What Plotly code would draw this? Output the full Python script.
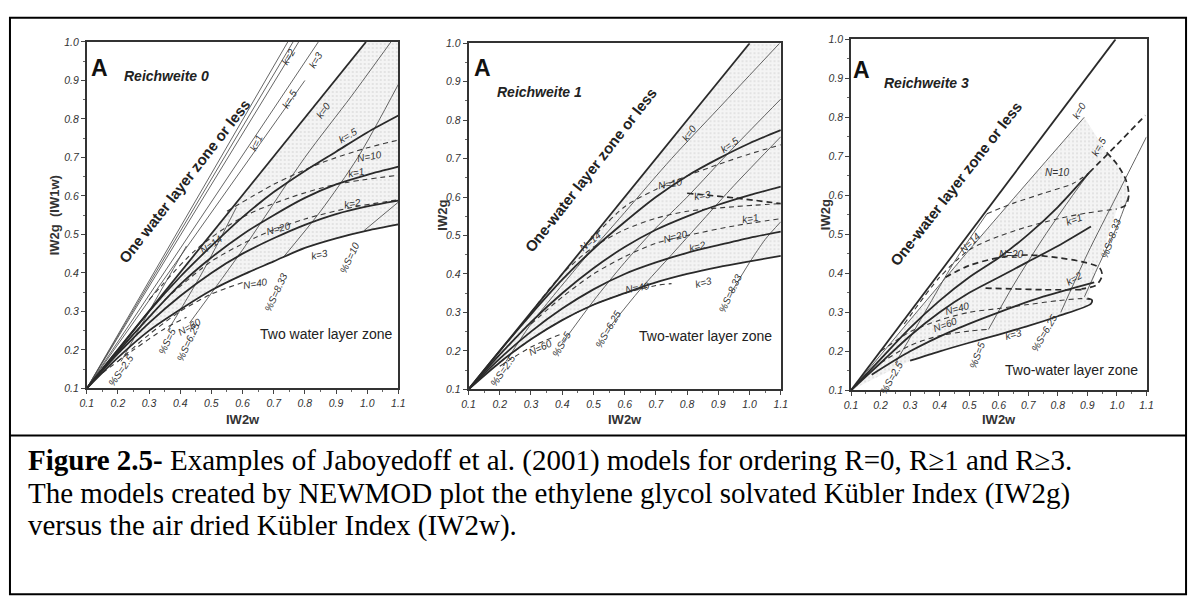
import plotly.graph_objects as go

W, H = 1197, 613

# ------------------------------------------------------------------
# DATA  (IW2w on x, IW2g on y)
# ------------------------------------------------------------------
grid_x = [0.1, 0.2, 0.3, 0.4, 0.5, 0.6, 0.7, 0.8, 0.9, 1.0, 1.1]
tick_vals_x = [0.1, 0.2, 0.3, 0.4, 0.5, 0.6, 0.7, 0.8, 0.9, 1.0, 1.1]
tick_vals_y = [0.1, 0.2, 0.3, 0.4, 0.5, 0.6, 0.7, 0.8, 0.9, 1.0]

# ---- Panel 1 : Reichweite 0 ----
r0_k0_x = [0.1, 0.996]
r0_k0_y = [0.1, 1.0]
r0_k05 = [0.1, 0.2, 0.3, 0.39, 0.47, 0.545, 0.61, 0.665, 0.715, 0.765, 0.809]
r0_k1 = [0.1, 0.195, 0.285, 0.37, 0.44, 0.5, 0.55, 0.595, 0.63, 0.655, 0.676]
r0_k2 = [0.1, 0.19, 0.27, 0.34, 0.4, 0.45, 0.49, 0.525, 0.553, 0.573, 0.588]
r0_k3 = [0.1, 0.18, 0.25, 0.305, 0.355, 0.395, 0.43, 0.465, 0.49, 0.51, 0.526]
r0_one_layer_ends_x = [0.745, 0.762, 0.78, 0.80, 0.843]
r0_one_layer_ends_y = [1.0, 1.0, 1.0, 0.9, 1.0]
r0_N10_x = [0.55, 0.7, 0.85, 1.0, 1.1]
r0_N10_y = [0.56, 0.63, 0.685, 0.725, 0.745]
r0_N14_x = [0.3, 0.45, 0.6, 0.75, 0.9, 1.1]
r0_N14_y = [0.33, 0.46, 0.545, 0.595, 0.63, 0.654]
r0_N20_x = [0.35, 0.5, 0.65, 0.8, 0.95, 1.1]
r0_N20_y = [0.33, 0.43, 0.495, 0.54, 0.57, 0.59]
r0_N40_x = [0.2, 0.3, 0.4, 0.5, 0.6]
r0_N40_y = [0.17, 0.24, 0.3, 0.345, 0.375]
r0_N60_x = [0.15, 0.25, 0.35, 0.42]
r0_N60_y = [0.14, 0.2, 0.255, 0.285]
r0_S25_x = [0.21, 0.3, 0.42]
r0_S25_y = [0.17, 0.3, 0.47]
r0_S5_x = [0.36, 0.47, 0.58]
r0_S5_y = [0.25, 0.4, 0.57]
r0_S625_x = [0.43, 0.6, 0.8, 0.95, 1.076]
r0_S625_y = [0.27, 0.46, 0.7, 0.86, 1.0]
r0_S833_x = [0.73, 0.85, 0.97, 1.1]
r0_S833_y = [0.44, 0.56, 0.7, 0.89]
r0_S10_x = [0.99, 1.1]
r0_S10_y = [0.51, 0.584]

# ---- Panel 2 : Reichweite 1 ----
r1_k0_x = [0.1, 1.0]
r1_k0_y = [0.1, 1.0]
r1_k05 = [0.1, 0.2, 0.295, 0.385, 0.465, 0.535, 0.6, 0.655, 0.7, 0.74, 0.774]
r1_k1 = [0.1, 0.19, 0.275, 0.35, 0.415, 0.47, 0.515, 0.55, 0.58, 0.605, 0.627]
r1_k2 = [0.1, 0.18, 0.25, 0.31, 0.36, 0.4, 0.43, 0.455, 0.475, 0.494, 0.51]
r1_k3 = [0.1, 0.17, 0.23, 0.28, 0.32, 0.35, 0.378, 0.4, 0.418, 0.433, 0.447]
r1_N10_x = [0.47, 0.6, 0.7, 0.8, 0.9, 1.0, 1.1]
r1_N10_y = [0.47, 0.575, 0.62, 0.655, 0.685, 0.712, 0.736]
r1_N14_x = [0.3, 0.4, 0.5, 0.6, 0.7, 0.8, 0.95, 1.1]
r1_N14_y = [0.3, 0.4, 0.47, 0.515, 0.545, 0.563, 0.575, 0.583]
r1_N20_x = [0.3, 0.4, 0.5, 0.6, 0.7, 0.8, 0.95, 1.1]
r1_N20_y = [0.27, 0.34, 0.4, 0.445, 0.48, 0.5, 0.525, 0.544]
r1_N40_x = [0.2, 0.3, 0.4, 0.5, 0.6, 0.7, 0.75]
r1_N40_y = [0.17, 0.23, 0.28, 0.32, 0.35, 0.37, 0.375]
r1_N60_x = [0.2, 0.3, 0.4]
r1_N60_y = [0.16, 0.21, 0.245]
r1_k3dash_x = [0.8, 0.95, 1.1]
r1_k3dash_y = [0.61, 0.598, 0.583]
r1_S25_x = [0.21, 0.3, 0.45, 0.6, 0.75, 0.9, 1.096]
r1_S25_y = [0.16, 0.27, 0.42, 0.56, 0.7, 0.83, 1.0]
r1_S5_x = [0.4, 0.5, 0.6, 0.7, 0.8, 0.95, 1.1]
r1_S5_y = [0.22, 0.33, 0.43, 0.52, 0.6, 0.73, 0.855]
r1_S625_x = [0.55, 0.65, 0.75, 0.85, 0.95, 1.1]
r1_S625_y = [0.26, 0.36, 0.45, 0.54, 0.63, 0.757]
r1_S833_x = [0.94, 1.0, 1.05, 1.1]
r1_S833_y = [0.35, 0.43, 0.49, 0.536]

# ---- Panel 3 : Reichweite 3 ----
r3_k0_x = [0.1, 0.995]
r3_k0_y = [0.1, 1.0]
r3_k0thin_x = [0.1, 0.5, 0.889]
r3_k0thin_y = [0.1, 0.46, 0.8]
r3_k05_x = [0.1, 0.2, 0.3, 0.4, 0.5, 0.6, 0.7, 0.8, 0.906]
r3_k05_y = [0.1, 0.18, 0.26, 0.33, 0.39, 0.44, 0.5, 0.57, 0.658]
r3_k05dash_x = [0.906, 1.0, 1.096]
r3_k05dash_y = [0.658, 0.73, 0.805]
r3_N10_x = [0.56, 0.65, 0.75, 0.85, 0.906]
r3_N10_y = [0.553, 0.58, 0.605, 0.63, 0.658]
r3_N14_x = [0.28, 0.4, 0.5, 0.6, 0.7, 0.8, 0.9, 1.0]
r3_N14_y = [0.27, 0.39, 0.46, 0.495, 0.52, 0.54, 0.555, 0.565]
r3_loop_x = [0.965, 1.0, 1.03, 1.04, 1.03, 1.0]
r3_loop_y = [0.71, 0.68, 0.64, 0.6, 0.575, 0.565]
r3_k1_x = [0.1, 0.2, 0.3, 0.4, 0.5, 0.6, 0.7, 0.8, 0.912]
r3_k1_y = [0.1, 0.17, 0.24, 0.3, 0.35, 0.39, 0.43, 0.47, 0.52]
r3_N20_x = [0.42, 0.5, 0.6, 0.7, 0.8, 0.88, 0.94, 0.95, 0.93, 0.88]
r3_N20_y = [0.39, 0.42, 0.44, 0.447, 0.44, 0.43, 0.415, 0.395, 0.37, 0.36]
r3_k2dash_x = [0.88, 0.75, 0.65, 0.555]
r3_k2dash_y = [0.358, 0.358, 0.36, 0.362]
r3_k2_x = [0.17, 0.3, 0.45, 0.6, 0.75, 0.923]
r3_k2_y = [0.14, 0.2, 0.255, 0.3, 0.34, 0.377]
r3_N40_x = [0.2, 0.3, 0.4, 0.5, 0.6, 0.7, 0.8, 0.88, 0.91]
r3_N40_y = [0.2, 0.25, 0.28, 0.3, 0.31, 0.32, 0.33, 0.335, 0.333]
r3_N60_x = [0.2, 0.3, 0.4, 0.5, 0.56]
r3_N60_y = [0.17, 0.215, 0.24, 0.252, 0.256]
r3_k3_x = [0.3, 0.4, 0.5, 0.6, 0.7, 0.8, 0.912, 0.915, 0.9]
r3_k3_y = [0.176, 0.2, 0.222, 0.243, 0.265, 0.29, 0.322, 0.332, 0.336]
r3_S25_x = [0.25, 0.35, 0.45, 0.56]
r3_S25_y = [0.17, 0.3, 0.43, 0.553]
r3_S5_x = [0.565, 0.65, 0.75, 0.85, 0.906]
r3_S5_y = [0.256, 0.37, 0.49, 0.6, 0.658]
r3_S625_x = [0.81, 0.9, 1.0, 1.1]
r3_S625_y = [0.3, 0.45, 0.6, 0.75]
r3_S833_x = [0.89, 0.95, 1.0, 1.04]
r3_S833_y = [0.34, 0.44, 0.52, 0.6]

# curve labels: (text, x, y, angle)
r0_labels = [("k=2", 0.748, 0.962, -60), ("k=3", 0.833, 0.953, -60), ("k=.5", 0.753, 0.852, -60),
             ("k=1", 0.642, 0.737, -65), ("k=0", 0.859, 0.822, -55), ("k=.5", 0.938, 0.758, -30),
             ("N=10", 1.007, 0.703, -10), ("k=1", 0.965, 0.66, -10), ("k=2", 0.954, 0.58, -10),
             ("N=20", 0.716, 0.516, -15), ("N=14", 0.5, 0.474, -35), ("N=40", 0.642, 0.372, -10),
             ("N=60", 0.431, 0.261, -30), ("k=3", 0.848, 0.448, -12), ("%S=10", 0.944, 0.44, -65),
             ("%S=8.33", 0.706, 0.35, -65), ("%S=6.25", 0.425, 0.219, -65), ("%S=5", 0.357, 0.223, -65),
             ("%S=2.5", 0.209, 0.147, -55)]
r1_labels = [("k=0", 0.806, 0.765, -55), ("k=.5", 0.938, 0.736, -35), ("N=10", 0.748, 0.634, -10),
             ("k=3", 0.848, 0.604, -10), ("k=1", 1.001, 0.544, -10), ("N=14", 0.489, 0.485, -40),
             ("N=20", 0.764, 0.498, -15), ("k=2", 0.832, 0.472, -15), ("N=40", 0.642, 0.366, -10),
             ("k=3", 0.853, 0.379, -15), ("%S=8.33", 0.938, 0.349, -65), ("%S=6.25", 0.547, 0.255, -60),
             ("%S=5", 0.397, 0.217, -60), ("N=60", 0.331, 0.209, -25), ("%S=2.5", 0.21, 0.149, -55)]
r3_labels = [("k=0", 0.873, 0.817, -60), ("k=.5", 0.939, 0.725, -60), ("N=10", 0.8, 0.658, 0),
             ("k=1", 0.856, 0.537, -20), ("%S=8.33", 0.979, 0.49, -70), ("N=14", 0.505, 0.478, -45),
             ("N=20", 0.644, 0.449, 0), ("k=2", 0.856, 0.386, -30), ("N=40", 0.46, 0.31, -15),
             ("N=60", 0.421, 0.268, -20), ("k=3", 0.65, 0.243, -15), ("%S=5", 0.527, 0.189, -70),
             ("%S=6.25", 0.756, 0.247, -60), ("%S=2.5", 0.237, 0.134, -60)]

caption_lines = [
    "<b>Figure 2.5-</b> Examples of Jaboyedoff et al. (2001) models for ordering R=0, R\u22651 and R\u22653.",
    "The models created by NEWMOD plot the ethylene glycol solvated K\u00fcbler Index (IW2g)",
    "versus the air dried K\u00fcbler Index (IW2w).",
]

# ------------------------------------------------------------------
# STYLES / GEOMETRY  (pixel positions in the 1197x613 window)
# ------------------------------------------------------------------
THICK = dict(color="#2a2a2a", width=1.8)
THIN = dict(color="#4a4a4a", width=0.85)
DASH = dict(color="#3a3a3a", width=1.1, dash="5px,4px")
DASHT = dict(color="#2a2a2a", width=1.7, dash="6px,4px")
SANS = "Liberation Sans, Arial, sans-serif"


def px(v):
    return v / W


def py(v):
    return 1 - v / H


frames = {1: (80.7, 396, 36.7, 390), 2: (467, 783, 38, 391), 3: (854, 1153, 34, 392)}

fig = go.Figure()


def line(p, xs, ys, style):
    fig.add_trace(go.Scatter(x=xs, y=ys, mode="lines", xaxis=f"x{'' if p == 1 else p}",
                             yaxis=f"y{'' if p == 1 else p}",
                             line=dict(shape="spline", smoothing=0.8, **style),
                             hoverinfo="skip", showlegend=False))


def shade(p, xs, ys):
    fig.add_trace(go.Scatter(x=xs, y=ys, mode="lines", fill="toself", xaxis=f"x{'' if p == 1 else p}",
                             yaxis=f"y{'' if p == 1 else p}", line=dict(width=0),
                             fillcolor="#eeeeee",
                             fillpattern=dict(shape=".", fgcolor="#c8c8c8", bgcolor="#f4f4f4",
                                              size=4, solidity=0.2),
                             hoverinfo="skip", showlegend=False))


shade(1, grid_x + [1.1, r0_k0_x[1], r0_k0_x[0]], r0_k3 + [1.0, r0_k0_y[1], r0_k0_y[0]])
shade(2, grid_x + [1.1, r1_k0_x[1], r1_k0_x[0]], r1_k3 + [1.0, r1_k0_y[1], r1_k0_y[0]])
shade(3, r3_k0thin_x + r3_loop_x + r3_k3_x[::-1] + [r3_k0thin_x[0]],
      r3_k0thin_y + r3_loop_y + r3_k3_y[::-1] + [r3_k0thin_y[0]])

# ---- panel 1 ----
for ex, ey in zip(r0_one_layer_ends_x, r0_one_layer_ends_y):
    line(1, [0.1, ex], [0.1, ey], THIN)
for xs, ys in [(r0_S25_x, r0_S25_y), (r0_S5_x, r0_S5_y), (r0_S625_x, r0_S625_y),
               (r0_S833_x, r0_S833_y), (r0_S10_x, r0_S10_y)]:
    line(1, xs, ys, THIN)
for xs, ys in [(r0_N10_x, r0_N10_y), (r0_N14_x, r0_N14_y), (r0_N20_x, r0_N20_y),
               (r0_N40_x, r0_N40_y), (r0_N60_x, r0_N60_y)]:
    line(1, xs, ys, DASH)
line(1, r0_k0_x, r0_k0_y, THICK)
for ys in [r0_k05, r0_k1, r0_k2, r0_k3]:
    line(1, grid_x, ys, THICK)

# ---- panel 2 ----
for xs, ys in [(r1_S25_x, r1_S25_y), (r1_S5_x, r1_S5_y), (r1_S625_x, r1_S625_y), (r1_S833_x, r1_S833_y)]:
    line(2, xs, ys, THIN)
for xs, ys in [(r1_N10_x, r1_N10_y), (r1_N14_x, r1_N14_y), (r1_N20_x, r1_N20_y),
               (r1_N40_x, r1_N40_y), (r1_N60_x, r1_N60_y)]:
    line(2, xs, ys, DASH)
line(2, r1_k3dash_x, r1_k3dash_y, DASHT)
line(2, r1_k0_x, r1_k0_y, THICK)
for ys in [r1_k05, r1_k1, r1_k2, r1_k3]:
    line(2, grid_x, ys, THICK)

# ---- panel 3 ----
for xs, ys in [(r3_k0thin_x, r3_k0thin_y), (r3_S25_x, r3_S25_y), (r3_S5_x, r3_S5_y),
               (r3_S625_x, r3_S625_y), (r3_S833_x, r3_S833_y)]:
    line(3, xs, ys, THIN)
for xs, ys in [(r3_N10_x, r3_N10_y), (r3_N14_x, r3_N14_y), (r3_N40_x, r3_N40_y), (r3_N60_x, r3_N60_y)]:
    line(3, xs, ys, DASH)
for xs, ys in [(r3_k05dash_x, r3_k05dash_y), (r3_loop_x, r3_loop_y), (r3_N20_x, r3_N20_y),
               (r3_k2dash_x, r3_k2dash_y)]:
    line(3, xs, ys, DASHT)
line(3, r3_k0_x, r3_k0_y, THICK)
for xs, ys in [(r3_k05_x, r3_k05_y), (r3_k1_x, r3_k1_y), (r3_k2_x, r3_k2_y), (r3_k3_x, r3_k3_y)]:
    line(3, xs, ys, THICK)

# ---- axes ----
annotations = []
for p, (l, r, t, b) in frames.items():
    sfx = "" if p == 1 else str(p)
    common = dict(showgrid=False, zeroline=False, showline=True, mirror=True, linecolor="#333",
                  linewidth=1.5, ticks="outside", ticklen=4, tickwidth=1, tickcolor="#444",
                  tickformat=".1f",
                  tickfont=dict(family=SANS, size=10.5, color="#333", style="italic"),
                  minor=dict(ticks="outside", ticklen=2, dtick=0.05, tickcolor="#666"))
    fig.layout[f"xaxis{sfx}"] = dict(common, domain=[px(l), px(r)], range=[0.1, 1.1],
                                     tickvals=tick_vals_x, anchor=f"y{sfx}")
    fig.layout[f"yaxis{sfx}"] = dict(common, domain=[py(b), py(t)], range=[0.1, 1.0],
                                     tickvals=tick_vals_y, anchor=f"x{sfx}")

panel_text = {
    1: dict(title="Reichweite 0", one="One water layer zone or less", two="Two water layer zone",
            one_pos=(0.415, 0.64), two_pos=(0.869, 0.24), ytitle="IW2g  (IW1w)", labels=r0_labels),
    2: dict(title="Reichweite 1", one="One-water layer zone or less", two="Two-water layer zone",
            one_pos=(0.489, 0.67), two_pos=(0.859, 0.238), ytitle="IW2g", labels=r1_labels),
    3: dict(title="Reichweite 3", one="One-water layer zone or less", two="Two-water layer zone",
            one_pos=(0.455, 0.631), two_pos=(0.845, 0.151), ytitle="IW2g", labels=r3_labels),
}
title_pos = {1: (0.357, 0.911), 2: (0.326, 0.872), 3: (0.357, 0.889)}
A_pos = {1: (0.14, 0.932), 2: (0.146, 0.935), 3: (0.137, 0.922)}
ytitle_px = {1: 48, 2: 441, 3: 829}

C = dict(xanchor="center", yanchor="middle", showarrow=False)

for p, d in panel_text.items():
    sfx = "" if p == 1 else str(p)
    xr, yr = f"x{sfx}", f"y{sfx}"
    l, r, t, b = frames[p]
    annotations.append(dict(C, text="<b>A</b>", x=A_pos[p][0], y=A_pos[p][1], xref=xr, yref=yr,
                            font=dict(family=SANS, size=23, color="#111")))
    annotations.append(dict(C, text=f"<b><i>{d['title']}</i></b>", x=title_pos[p][0], y=title_pos[p][1],
                            xref=xr, yref=yr, font=dict(family=SANS, size=14, color="#222")))
    annotations.append(dict(C, text=f"<b>{d['one']}</b>", x=d["one_pos"][0], y=d["one_pos"][1], xref=xr,
                            yref=yr, textangle=-52, font=dict(family=SANS, size=15, color="#222")))
    annotations.append(dict(C, text=d["two"], x=d["two_pos"][0], y=d["two_pos"][1], xref=xr, yref=yr,
                            font=dict(family=SANS, size=14, color="#222")))
    for txt, lx, ly, ang in d["labels"]:
        annotations.append(dict(C, text=txt, x=lx, y=ly, xref=xr, yref=yr, textangle=ang,
                                font=dict(family=SANS, size=10, color="#333", style="italic")))
    annotations.append(dict(C, text="<b>IW2w</b>", x=px((l + r) / 2), y=py(422), xref="paper",
                            yref="paper", font=dict(family=SANS, size=13, color="#333")))
    annotations.append(dict(C, text=f"<b>{d['ytitle']}</b>", x=px(ytitle_px[p]), y=py(213),
                            xref="paper", yref="paper", textangle=-90,
                            font=dict(family=SANS, size=13, color="#333")))

for i, txt in enumerate(caption_lines):
    annotations.append(dict(text=txt, x=px(19), y=py(464 + 33 * i), xref="paper", yref="paper",
                            xanchor="left", yanchor="middle", showarrow=False,
                            font=dict(family="Liberation Serif, Times New Roman, serif", size=29,
                                      color="#000")))

shapes = [
    dict(type="rect", xref="paper", yref="paper", x0=px(3), x1=px(1193), y0=py(600), y1=py(12),
         line=dict(color="#000", width=2)),
    dict(type="line", xref="paper", yref="paper", x0=px(3), x1=px(1193), y0=py(438), y1=py(438),
         line=dict(color="#000", width=2)),
]

fig.update_layout(width=W, height=H, margin=dict(l=0, r=0, t=0, b=0), paper_bgcolor="white",
                  plot_bgcolor="white", showlegend=False, annotations=annotations, shapes=shapes)

# remove the default 8px page margin so the figure fills the window exactly
fig.write_html("out.html", config={"displayModeBar": False},
               post_script="document.body.style.margin='0px';document.body.style.overflow='hidden';")
